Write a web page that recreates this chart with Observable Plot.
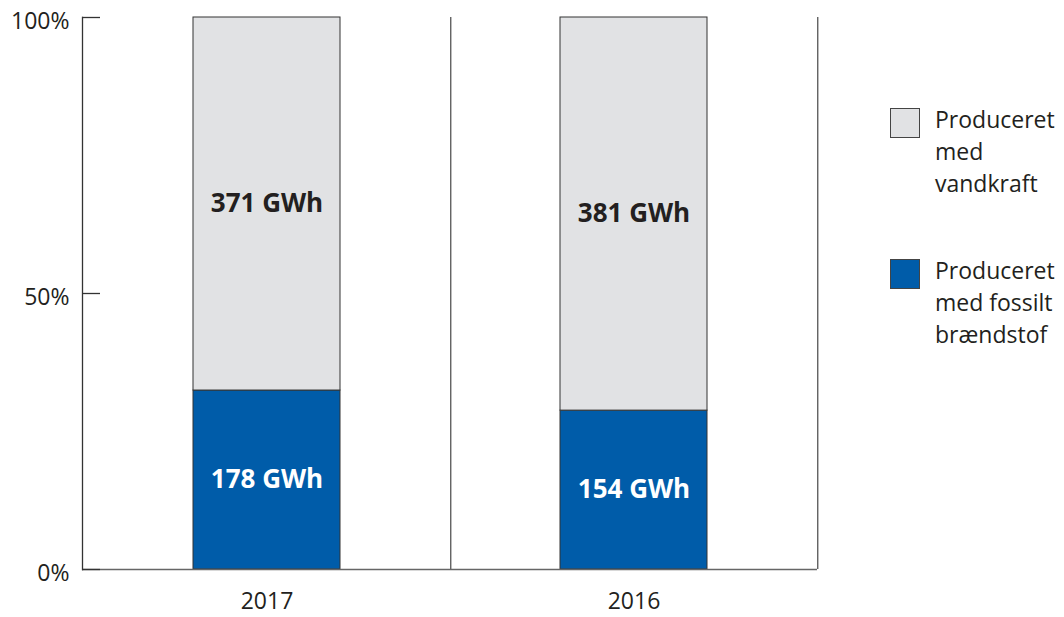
<!DOCTYPE html>
<html>
<head>
<meta charset="utf-8">
<script src="https://cdn.jsdelivr.net/npm/d3@7"></script>
<script src="https://cdn.jsdelivr.net/npm/@observablehq/plot@0.6"></script>
<style>
  html, body { margin: 0; padding: 0; background: #fff; }
  #wrap { position: relative; width: 1064px; height: 617px; font-family: "Open Sans", sans-serif; color: #231f20; }
  .legend { position: absolute; left: 890px; font-size: 23px; line-height: 32px; }
  .legend .sw { position: absolute; left: 0; top: 0; width: 28px; height: 28px; border: 1px solid #444; }
  .legend .lbl { position: absolute; left: 45px; top: -5px; white-space: nowrap; }
</style>
</head>
<body>
<div id="wrap"></div>
<script>
const years = ["2017", "2016"];
const fossil = [178, 154];
const hydro = [371, 381];
const seriesNames = ["Produceret med fossilt brændstof", "Produceret med vandkraft"];
const seriesColors = ["#005ca9", "#e1e2e4"];
const legendLines = [["Produceret", "med", "vandkraft"], ["Produceret", "med fossilt", "brændstof"]];
const yTicks = [0, 0.5, 1];

const data = [];
years.forEach((y, i) => {
  data.push({year: y, type: seriesNames[0], value: fossil[i]});
  data.push({year: y, type: seriesNames[1], value: hydro[i]});
});

const stackOpts = {x: "year", y: "value", order: seriesNames, offset: "normalize"};

const plot = Plot.plot({
  width: 1064,
  height: 617,
  marginTop: 17,
  marginBottom: 48,
  marginLeft: 82,
  marginRight: 247,
  style: {fontFamily: "Open Sans, sans-serif", color: "#231f20", background: "white"},
  x: {domain: years, paddingInner: 0.6, paddingOuter: 0.3, label: null},
  y: {domain: [0, 1], label: null},
  color: {domain: seriesNames, range: seriesColors},
  marks: [
    Plot.barY(data, Plot.stackY({...stackOpts, fill: "type", stroke: "#333", strokeWidth: 1})),
    Plot.text(data, Plot.stackY({...stackOpts,
      text: d => `${d.value} GWh`,
      fill: d => d.type === seriesNames[0] ? "white" : "#231f20",
      fontWeight: "bold", fontSize: 26})),
    Plot.ruleX(years, {x: d => d, dx: 183.75, stroke: "#555", strokeWidth: 1.3}),
    Plot.ruleY([0], {stroke: "#666", strokeWidth: 1.3}),
    Plot.ruleY(yTicks, {y: d => d, insetRight: 717, stroke: "#333", strokeWidth: 1.3}),
    Plot.frame({anchor: "left", stroke: "#333", strokeWidth: 1.3}),
    Plot.axisY({ticks: yTicks, tickFormat: d => `${Math.round(d * 100)}%`, tickSize: 0, tickPadding: 13, fontSize: 23, dy: 4, label: null}),
    Plot.axisX({tickSize: 0, tickPadding: 23, fontSize: 23, label: null})
  ]
});

const wrap = document.getElementById("wrap");
wrap.appendChild(plot);

const legendTops = [108, 259];
const legendColors = [seriesColors[1], seriesColors[0]];
legendLines.forEach((lines, i) => {
  const item = document.createElement("div");
  item.className = "legend";
  item.style.top = legendTops[i] + "px";
  const sw = document.createElement("div");
  sw.className = "sw";
  sw.style.background = legendColors[i];
  item.appendChild(sw);
  const lbl = document.createElement("div");
  lbl.className = "lbl";
  lbl.innerHTML = lines.join("<br>");
  item.appendChild(lbl);
  wrap.appendChild(item);
});
</script>
</body>
</html>
